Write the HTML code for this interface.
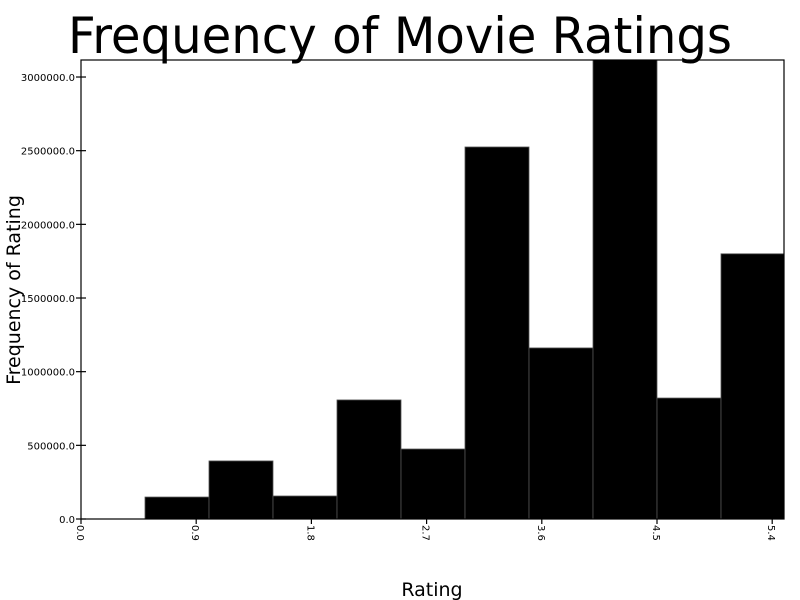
<!DOCTYPE html>
<html><head><meta charset="utf-8"><style>
body{margin:0;background:#fff;}
svg{display:block;font-family:"DejaVu Sans","Liberation Sans",sans-serif;}
</style></head><body>
<svg id="chart" width="800" height="600">
<text x="400" y="53" text-anchor="middle" font-size="50" textLength="664" lengthAdjust="spacingAndGlyphs">Frequency of Movie Ratings</text>
<text transform="translate(20,290) rotate(-90)" text-anchor="middle" font-size="19">Frequency of Rating</text>
<text x="432" y="596" text-anchor="middle" font-size="19">Rating</text>
<g id="bars"></g><g id="axes"></g>
<rect x="81" y="60" width="703" height="459" fill="none" stroke="#000" stroke-width="1.2"/>
</svg>
<script>
const binStarts=[0.5,1.0,1.5,2.0,2.5,3.0,3.5,4.0,4.5,5.0];
const counts=[149000,394000,156000,808000,475000,2525000,1161000,3200000,821000,1800000];
const binWidth=0.5;
const yTicks=[0,500000,1000000,1500000,2000000,2500000,3000000];
const xTicks=[0,0.9,1.8,2.7,3.6,4.5,5.4];
const NS="http://www.w3.org/2000/svg";
const X0=81,X1=784,Y0=519,Y1=60,xMax=5.4922,yMax=3115500;
const sx=v=>X0+v/xMax*(X1-X0), sy=v=>Y0-v/yMax*(Y0-Y1);
const bars=document.getElementById('bars'),axes=document.getElementById('axes');
function mk(t,a,p){const e=document.createElementNS(NS,t);for(const k in a)e.setAttribute(k,a[k]);p.appendChild(e);return e;}
binStarts.forEach((b,i)=>{
 const top=Math.max(sy(counts[i]),Y1);
 const xa=sx(b),xb=Math.min(sx(b+binWidth),X1);
 const r=mk('rect',{x:xa,y:top,width:xb-xa,height:Y0-top,fill:'#000',stroke:'#555','stroke-width':0.8},bars);
 
 
});
yTicks.forEach(v=>{
 const y=sy(v);
 const l=mk('line',{x1:76,x2:86,y1:y,y2:y,stroke:'#000','stroke-width':1.2},axes);
 
 
 const t=mk('text',{x:75,y:y+4,'text-anchor':'end','font-size':10},axes);
 t.textContent=v.toFixed(1);
 
 
});
xTicks.forEach(v=>{
 const x=sx(v);
 const l=mk('line',{x1:x,x2:x,y1:519,y2:524,stroke:'#000','stroke-width':1.2},axes);
 
 
 const t=mk('text',{transform:`translate(${x-4},525) rotate(90)`,'font-size':10},axes);
 t.textContent=v.toFixed(1);
 
 
});
</script>
</body></html>
